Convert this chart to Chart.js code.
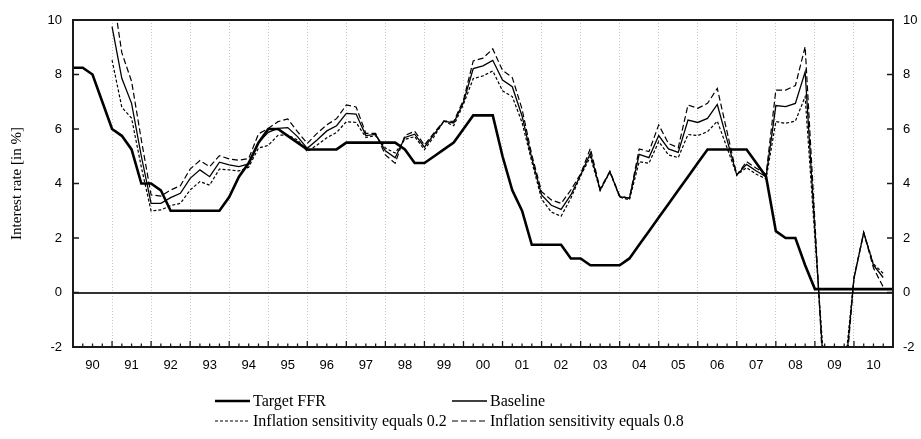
<!DOCTYPE html>
<html>
<head>
<meta charset="utf-8">
<script src="https://cdn.jsdelivr.net/npm/chart.js@4/dist/chart.umd.min.js"></script>
<style>
  html, body { margin: 0; padding: 0; background: #fff; }
  #wrap { width: 921px; height: 439px; position: relative; }
</style>
</head>
<body>
<div id="wrap"><canvas id="canvas1" width="921" height="439"></canvas></div>
<script>
/* Data: quarterly, 1990Q1 .. 2011Q1 */
/////////////////////////////////////////////////////////////////
const yearLabels = ['90','91','92','93','94','95','96','97','98','99','00',
  '01','02','03','04','05','06','07','08','09','10'];

let quarters = [];
for (let y = 1990; y <= 2011; y++) {
  for (let q = 1; q <= 4; q++) {
    if (y === 2011 && q > 1) break;
    quarters.push(y + 'Q' + q);
  }
}

const targetFFR = [
  8.25, 8.25, 8.0, 7.0, 6.0, 5.75, 5.25, 4.0, 4.0, 3.75, 3.0, 3.0,
  3.0, 3.0, 3.0, 3.0, 3.5, 4.25, 4.75, 5.5, 6.0, 6.0, 5.75, 5.5,
  5.25, 5.25, 5.25, 5.25, 5.5, 5.5, 5.5, 5.5, 5.5, 5.5, 5.25, 4.75,
  4.75, 5.0, 5.25, 5.5, 6.0, 6.5, 6.5, 6.5, 5.0, 3.75, 3.0, 1.75,
  1.75, 1.75, 1.75, 1.25, 1.25, 1.0, 1.0, 1.0, 1.0, 1.25, 1.75, 2.25,
  2.75, 3.25, 3.75, 4.25, 4.75, 5.25, 5.25, 5.25, 5.25, 5.25, 4.75, 4.25,
  2.25, 2.0, 2.0, 1.0, 0.125, 0.125, 0.125, 0.125, 0.125, 0.125, 0.125, 0.125,
  0.125
];

const baseline = [
  null, null, null, null, 9.76, 7.86, 6.94, 5.0, 3.27, 3.27, 3.48, 3.64,
  4.19, 4.5, 4.25, 4.78, 4.68, 4.62, 4.72, 5.5, 5.88, 6.02, 6.05, 5.72,
  5.29, 5.6, 5.93, 6.12, 6.57, 6.55, 5.76, 5.8, 5.2, 4.94, 5.69, 5.81,
  5.33, 5.81, 6.29, 6.22, 6.99, 8.22, 8.32, 8.52, 7.8, 7.55, 6.48, 4.92,
  3.58, 3.2, 3.05, 3.58, 4.31, 5.11, 3.76, 4.43, 3.52, 3.46, 5.07, 4.95,
  5.76, 5.27, 5.14, 6.33, 6.24, 6.39, 6.9, 5.6, 4.31, 4.7, 4.46, 4.25,
  6.86, 6.82, 6.94, 8.1, 2.3, -3.5, -4.0, -3.4, 0.52, 2.2, 1.0, 0.55
];

const inflation02 = [
  null, null, null, null, 8.53, 6.8, 6.4, 4.6, 2.99, 3.03, 3.19, 3.27,
  3.76, 4.07, 3.94, 4.53, 4.5, 4.46, 4.6, 5.3, 5.4, 5.77, 5.78, 5.6,
  5.17, 5.41, 5.68, 5.87, 6.27, 6.24, 5.69, 5.75, 5.3, 5.12, 5.62, 5.72,
  5.24, 5.73, 6.29, 6.12, 6.91, 7.85, 7.95, 8.13, 7.4, 7.19, 6.24, 4.8,
  3.43, 2.95, 2.8, 3.46, 4.28, 4.98, 3.74, 4.42, 3.5, 3.4, 4.8, 4.74,
  5.54, 5.05, 4.95, 5.8, 5.76, 5.9, 6.29, 5.31, 4.31, 4.58, 4.34, 4.17,
  6.27, 6.21, 6.29, 7.19, 2.0, -3.0, -3.4, -3.0, 0.5, 2.2, 1.05, 0.7
];

const inflation08 = [
  null, null, null, null, 11.2, 8.8, 7.75, 5.6, 3.58, 3.54, 3.76, 3.92,
  4.53, 4.84, 4.62, 5.02, 4.9, 4.85, 4.92, 5.82, 6.02, 6.27, 6.37, 5.9,
  5.47, 5.84, 6.15, 6.38, 6.88, 6.81, 5.84, 5.84, 5.05, 4.74, 5.76, 5.92,
  5.41, 5.87, 6.29, 6.28, 7.06, 8.5, 8.6, 8.94, 8.15, 7.89, 6.73, 5.05,
  3.7, 3.4, 3.27, 3.76, 4.35, 5.29, 3.8, 4.45, 3.55, 3.46, 5.27, 5.17,
  6.15, 5.47, 5.31, 6.88, 6.76, 6.94, 7.49, 5.9, 4.31, 4.8, 4.56, 4.34,
  7.43, 7.43, 7.59, 9.02, 2.6, -4.0, -4.6, -3.8, 0.55, 2.2, 0.9, 0.2
];

const seriesNames = ['Target FFR', 'Baseline',
  'Inflation sensitivity equals 0.2', 'Inflation sensitivity equals 0.8'];

/* Frame, inward ticks, legend */
/////////////////////////////////////////////////////////////////
const framePlugin = {
  id: 'frame',
  afterDraw(chart) {
    const ctx = chart.ctx;
    const a = chart.chartArea;
    const xs = chart.scales.x;
    const ys = chart.scales.y;
    ctx.save();
    ctx.strokeStyle = '#1a1a1a';
    ctx.lineWidth = 1.3;
    // bottom ticks, one per quarter, longer at year ends
    for (let i = 0; i < quarters.length; i++) {
      const px = xs.getPixelForValue(i);
      const len = (i % 4 === 0) ? 6 : 3.5;
      ctx.beginPath();
      ctx.moveTo(px, a.bottom);
      ctx.lineTo(px, a.bottom - len);
      ctx.stroke();
    }
    // left and right ticks
    ys.ticks.forEach(t => {
      const py = ys.getPixelForValue(t.value);
      ctx.beginPath();
      ctx.moveTo(a.left, py);
      ctx.lineTo(a.left + 6, py);
      ctx.moveTo(a.right, py);
      ctx.lineTo(a.right - 6, py);
      ctx.stroke();
    });
    // frame
    ctx.lineWidth = 2;
    ctx.strokeRect(a.left, a.top, a.right - a.left, a.bottom - a.top);

    // legend in two columns
    const colX = [215, 452];
    const rowY = [401, 421];
    ctx.font = '16px "Liberation Serif", "Times New Roman", serif';
    ctx.textBaseline = 'middle';
    ctx.fillStyle = '#000';
    chart.data.datasets.forEach((ds, k) => {
      const cx = colX[k % 2];
      const cy = rowY[Math.floor(k / 2)];
      ctx.beginPath();
      ctx.setLineDash(ds.borderDash || []);
      ctx.lineWidth = ds.borderWidth;
      ctx.strokeStyle = ds.borderColor;
      ctx.moveTo(cx, cy);
      ctx.lineTo(cx + 35, cy);
      ctx.stroke();
      ctx.setLineDash([]);
      ctx.fillText(ds.label, cx + 38, cy + 1);
    });
    ctx.restore();
  }
};

/* Chart */
/////////////////////////////////////////////////////////////////
const tickFont = { family: '"Liberation Sans", Arial, sans-serif', size: 13 };

const ctx1 = document.getElementById('canvas1').getContext('2d');
const chart1 = new Chart(ctx1, {
  type: 'line',
  data: {
    labels: quarters,
    datasets: [
      { label: seriesNames[0], data: targetFFR, borderColor: '#000', borderWidth: 2.6 },
      { label: seriesNames[1], data: baseline, borderColor: '#000', borderWidth: 1.3 },
      { label: seriesNames[2], data: inflation02, borderColor: '#000', borderWidth: 1.2, borderDash: [3, 2] },
      { label: seriesNames[3], data: inflation08, borderColor: '#000', borderWidth: 1.2, borderDash: [6, 3] }
    ]
  },
  options: {
    responsive: false,
    animation: false,
    devicePixelRatio: 1,
    layout: { padding: { top: 20, left: 0, right: 0, bottom: 0 } },
    elements: {
      point: { radius: 0 },
      line: { tension: 0, fill: false }
    },
    plugins: {
      legend: { display: false },
      tooltip: { enabled: false }
    },
    scales: {
      x: {
        type: 'category',
        offset: false,
        afterFit(scale) { scale.height = 92; },
        grid: {
          offset: false,
          drawTicks: false,
          lineWidth: 1,
          color: c => (c.index % 4 === 0 && c.index > 0 && c.index < quarters.length - 1) ? '#c4c4c4' : 'rgba(0,0,0,0)'
        },
        border: { display: false, dash: [1, 2] },
        ticks: {
          autoSkip: false,
          maxRotation: 0,
          padding: 11,
          color: '#000',
          font: tickFont,
          callback: (v, i) => (i % 4 === 2) ? yearLabels[Math.floor(i / 4)] : ''
        }
      },
      y: {
        position: 'left',
        min: -2,
        max: 10,
        afterFit(scale) { scale.width = 73; },
        grid: {
          drawTicks: false,
          lineWidth: 2,
          color: c => c.tick.value === 0 ? '#333' : 'rgba(0,0,0,0)'
        },
        border: { display: false },
        ticks: { stepSize: 2, padding: 11, color: '#000', font: tickFont },
        title: {
          display: true,
          text: 'Interest rate [in %]',
          color: '#000',
          padding: { top: 8, bottom: 0 },
          font: { family: '"Liberation Serif", "Times New Roman", serif', size: 15 }
        }
      },
      y2: {
        position: 'right',
        min: -2,
        max: 10,
        afterFit(scale) { scale.width = 28; },
        grid: { display: false, drawTicks: false },
        border: { display: false },
        ticks: { stepSize: 2, padding: 10, color: '#000', font: tickFont }
      }
    }
  },
  plugins: [framePlugin]
});
</script>
</body>
</html>
